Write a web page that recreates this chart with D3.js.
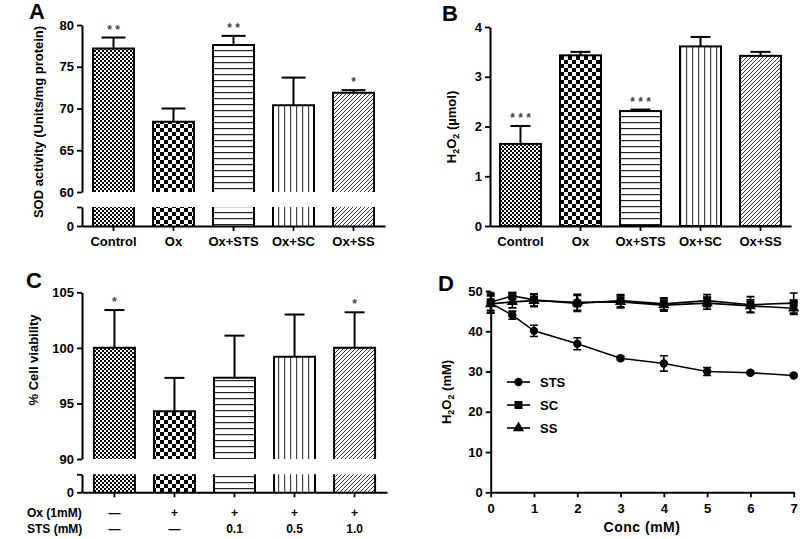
<!DOCTYPE html>
<html><head><meta charset="utf-8">
<script src="https://cdn.jsdelivr.net/npm/d3@7"></script>
<style>
body{margin:0;background:#fff}
svg text{font-family:"Liberation Sans",Arial,sans-serif;font-weight:bold;fill:#000}
</style></head><body>
<svg id="c" width="800" height="539"></svg>
<script>
// ---------- data ----------
const categories = ["Control", "Ox", "Ox+STS", "Ox+SC", "Ox+SS"];
const sodMean  = [77.2, 68.4, 77.6, 70.4, 71.9];
const sodErr   = [1.3, 1.6, 1.1, 3.3, 0.3];
const sodStars = ["* *", "", "* *", "", "*"];
const sodTicks = [60, 65, 70, 75, 80];

const h2o2Mean  = [1.65, 3.43, 2.31, 3.61, 3.42];
const h2o2Err   = [0.36, 0.07, 0.03, 0.19, 0.08];
const h2o2Stars = ["* * *", "", "* * *", "", ""];
const h2o2Ticks = [0, 1, 2, 3, 4];

const viabGroups = ["g1", "g2", "g3", "g4", "g5"];
const viabMean  = [100.0, 94.3, 97.3, 99.2, 100.0];
const viabErr   = [3.4, 3.0, 3.8, 3.8, 3.2];
const viabStars = ["*", "", "", "", "*"];
const viabTicks = [90, 95, 100, 105];
const oxRow  = ["\u2014", "+", "+", "+", "+"];
const stsRow = ["\u2014", "\u2014", "0.1", "0.5", "1.0"];

const conc   = [0, 0.5, 1, 2, 3, 4, 5, 6, 7];
const stsY   = [47.0, 44.0, 40.1, 36.9, 33.3, 32.0, 30.0, 29.7, 29.0];
const stsE   = [2.5, 1.0, 1.4, 1.5, 0.4, 1.9, 1.0, 0.3, 0.3];
const scY    = [47.2, 48.8, 47.8, 46.9, 47.6, 46.8, 47.6, 46.6, 47.0];
const scE    = [2.0, 0.8, 1.5, 2.0, 1.5, 1.5, 1.5, 2.0, 2.5];
const ssY    = [46.8, 47.3, 47.6, 47.2, 47.3, 46.5, 47.0, 46.3, 45.7];
const ssE    = [2.0, 1.5, 1.5, 2.0, 1.5, 1.5, 1.5, 1.5, 1.5];
const dXTicks = [0, 1, 2, 3, 4, 5, 6, 7];
const dYTicks = [0, 10, 20, 30, 40, 50];
const seriesNames = ["STS", "SC", "SS"];

const patternIds = ["pFine", "pCoarse", "pH", "pV", "pD"];

// ---------- setup ----------
const svg = d3.select("#c");
const defs = svg.append("defs");
function pat(id, w, h, draw) {
  const p = defs.append("pattern").attr("id", id).attr("patternUnits", "userSpaceOnUse")
    .attr("width", w).attr("height", h);
  p.append("rect").attr("width", w).attr("height", h).attr("fill", "#fff");
  draw(p);
}
pat("pFine", 4, 4, p => {
  p.append("rect").attr("x", 0).attr("y", 0).attr("width", 2).attr("height", 2).attr("fill", "#000");
  p.append("rect").attr("x", 2).attr("y", 2).attr("width", 2).attr("height", 2).attr("fill", "#000");
});
pat("pCoarse", 8, 8, p => {
  p.append("rect").attr("x", 0).attr("y", 0).attr("width", 4).attr("height", 4).attr("fill", "#000");
  p.append("rect").attr("x", 4).attr("y", 4).attr("width", 4).attr("height", 4).attr("fill", "#000");
});
pat("pH", 6, 6, p => {
  p.append("rect").attr("x", 0).attr("y", 2).attr("width", 6).attr("height", 1.2).attr("fill", "#222");
});
pat("pV", 6, 6, p => {
  p.append("rect").attr("x", 2).attr("y", 0).attr("width", 1.2).attr("height", 6).attr("fill", "#444");
});
pat("pD", 4, 4, p => {
  p.append("path").attr("d", "M-1,1 l2,-2 M0,4 l4,-4 M3,5 l2,-2").attr("stroke", "#222").attr("stroke-width", 0.9);
});

const intFmt = d3.format("d");

function styleAxis(g, fs) {
  g.select(".domain").attr("stroke", "#000").attr("stroke-width", 2);
  g.selectAll(".tick line").attr("stroke", "#000").attr("stroke-width", 1.8);
  g.selectAll(".tick text").attr("font-size", fs || 13).attr("fill", "#000")
    .attr("font-family", "Liberation Sans, Arial, sans-serif").attr("font-weight", "bold");
}

function panelLabel(t, x, y) {
  svg.append("text").attr("x", x).attr("y", y).attr("font-size", 22).text(t);
}

function yTitle(parts, x, y) {
  const t = svg.append("text").attr("transform", `translate(${x},${y}) rotate(-90)`)
    .attr("text-anchor", "middle").attr("font-size", 13);
  parts.forEach(p => {
    const ts = t.append("tspan").text(p[0]);
    if (p[1]) ts.attr("font-size", 9).attr("dy", p[1] === "sub" ? 3 : 0);
    if (p[2]) ts.attr("dy", p[2]);
  });
  return t;
}

// generic bar panel (optionally broken)
function barPanel(o) {
  const g = svg.append("g");
  const x = o.x;
  const bw = 41;
  const yU = o.yU, yL = o.yL;
  const base = o.yU.domain()[0];
  o.means.forEach((m, i) => {
    const cx = x(o.cats[i]) + x.bandwidth() / 2;
    const l = cx - bw / 2, r = cx + bw / 2;
    const top = yU(m), bot = yU(base);
    g.append("rect").attr("x", l).attr("y", top).attr("width", bw).attr("height", bot - top)
      .attr("fill", `url(#${patternIds[i]})`);
    if (yL) {
      g.append("path").attr("d", `M${l},${bot}V${top}H${r}V${bot}`).attr("fill", "none")
        .attr("stroke", "#000").attr("stroke-width", 2);
      const lt = yL(yL.domain()[1]), lb = yL(0);
      g.append("rect").attr("x", l).attr("y", lt).attr("width", bw).attr("height", lb - lt)
        .attr("fill", `url(#${patternIds[i]})`);
      g.append("path").attr("d", `M${l},${lb}V${lt}M${r},${lt}V${lb}`).attr("fill", "none")
        .attr("stroke", "#000").attr("stroke-width", 2);
    } else {
      g.append("rect").attr("x", l).attr("y", top).attr("width", bw).attr("height", bot - top)
        .attr("fill", "none").attr("stroke", "#000").attr("stroke-width", 2);
    }
    const et = yU(m + o.errs[i]);
    g.append("line").attr("x1", cx).attr("x2", cx).attr("y1", top).attr("y2", et)
      .attr("stroke", "#000").attr("stroke-width", 2);
    g.append("line").attr("x1", cx - o.cap / 2).attr("x2", cx + o.cap / 2).attr("y1", et).attr("y2", et)
      .attr("stroke", "#000").attr("stroke-width", 2);
    if (o.stars[i]) {
      g.append("text").attr("x", cx).attr("y", et - 4).attr("text-anchor", "middle")
        .attr("font-size", 12).attr("font-weight", "normal").style("fill", "#444").text(o.stars[i]);
    }
  });
  const ya = g.append("g").attr("transform", `translate(${o.axisX},0)`)
    .call(d3.axisLeft(yU).tickValues(o.ticks).tickFormat(intFmt).tickSize(5).tickSizeOuter(0).tickPadding(3));
  styleAxis(ya);
  if (yL) {
    const yl = g.append("g").attr("transform", `translate(${o.axisX},0)`)
      .call(d3.axisLeft(yL).tickValues([0, yL.domain()[1]]).tickFormat(d => d === 0 ? "0" : "")
        .tickSize(5).tickSizeOuter(0).tickPadding(3));
    styleAxis(yl);
  }
  const xa = g.append("g").attr("transform", `translate(0,${o.axisY})`)
    .call(d3.axisBottom(x).tickSize(5).tickSizeOuter(0).tickPadding(6)
      .tickFormat(o.xFormat || (d => d)));
  styleAxis(xa, 13);
  return g;
}

// ---------- Panel A ----------
const xA = d3.scaleBand().domain(categories).range([82, 385]).paddingInner(0.3).paddingOuter(0.175);
barPanel({
  cats: categories, means: sodMean, errs: sodErr, stars: sodStars, x: xA,
  yU: d3.scaleLinear().domain([60, 80]).range([192, 25]),
  yL: d3.scaleLinear().domain([0, 5]).range([226, 207]),
  ticks: sodTicks, axisX: 82, axisY: 226, cap: 24
});
panelLabel("A", 29, 19);
yTitle([["SOD activity (Units/mg protein)"]], 43, 122);

// ---------- Panel B ----------
const xB = d3.scaleBand().domain(categories).range([490, 791]).paddingInner(0.3).paddingOuter(0.158);
barPanel({
  cats: categories, means: h2o2Mean, errs: h2o2Err, stars: h2o2Stars, x: xB,
  yU: d3.scaleLinear().domain([0, 4]).range([226, 27]),
  yL: null,
  ticks: h2o2Ticks, axisX: 490, axisY: 226, cap: 20
});
panelLabel("B", 442, 21);
yTitle([["H"], ["2", "sub"], ["O", null, -3], ["2", "sub"], [" (\u00b5mol)", null, -3]], 456, 127);

// ---------- Panel C ----------
const xC = d3.scaleBand().domain(viabGroups).range([82, 387]).paddingInner(0.3).paddingOuter(0.19);
barPanel({
  cats: viabGroups, means: viabMean, errs: viabErr, stars: viabStars, x: xC,
  yU: d3.scaleLinear().domain([90, 105]).range([459, 292.3]),
  yL: d3.scaleLinear().domain([0, 5]).range([492.3, 474.3]),
  ticks: viabTicks, axisX: 82, axisY: 492.3, cap: 20, xFormat: () => ""
});
panelLabel("C", 26, 288);
yTitle([["%  Cell viability"]], 38, 360);
const rowG = svg.append("g");
rowG.append("text").attr("x", 27).attr("y", 517).attr("font-size", 12).text("Ox (1mM)");
rowG.append("text").attr("x", 27).attr("y", 533).attr("font-size", 12).text("STS (mM)");
viabGroups.forEach((gname, i) => {
  const cx = xC(gname) + xC.bandwidth() / 2;
  rowG.append("text").attr("x", cx).attr("y", 517).attr("text-anchor", "middle")
    .attr("font-size", 12).attr("font-weight", oxRow[i] === "\u2014" ? "normal" : "bold").text(oxRow[i]);
  rowG.append("text").attr("x", cx).attr("y", 533).attr("text-anchor", "middle")
    .attr("font-size", 12).attr("font-weight", stsRow[i] === "\u2014" ? "normal" : "bold").text(stsRow[i]);
});

// ---------- Panel D ----------
const xD = d3.scaleLinear().domain([0, 7]).range([490.7, 793.7]);
const yD = d3.scaleLinear().domain([0, 50]).range([492.3, 291]);
const gD = svg.append("g");
const seriesData = [
  { name: seriesNames[0], y: stsY, e: stsE, shape: "circle" },
  { name: seriesNames[1], y: scY, e: scE, shape: "square" },
  { name: seriesNames[2], y: ssY, e: ssE, shape: "triangle" }
];
const symType = { circle: d3.symbolCircle, square: d3.symbolSquare, triangle: d3.symbolTriangle };
const symSize = { circle: 55, square: 64, triangle: 55 };
const line = d3.line().x(d => xD(d[0])).y(d => yD(d[1]));
[2, 1, 0].forEach(si => {
  const s = seriesData[si];
  const pts = conc.map((c, i) => [c, s.y[i], s.e[i]]);
  gD.append("path").datum(pts).attr("d", line).attr("fill", "none").attr("stroke", "#000").attr("stroke-width", 1.6);
  pts.forEach(p => {
    const cx = xD(p[0]), y1 = yD(p[1] - p[2]), y2 = yD(p[1] + p[2]);
    gD.append("path").attr("d", `M${cx},${y1}V${y2}M${cx - 4},${y1}H${cx + 4}M${cx - 4},${y2}H${cx + 4}`)
      .attr("stroke", "#000").attr("stroke-width", 1.6).attr("fill", "none");
    gD.append("path").attr("d", d3.symbol().type(symType[s.shape]).size(symSize[s.shape])())
      .attr("transform", `translate(${cx},${yD(p[1])})`).attr("fill", "#000");
  });
});
const yDa = gD.append("g").attr("transform", "translate(490.7,0)")
  .call(d3.axisLeft(yD).tickValues(dYTicks).tickFormat(intFmt).tickSize(5).tickSizeOuter(0).tickPadding(3));
styleAxis(yDa);
const xDa = gD.append("g").attr("transform", "translate(0,492.3)")
  .call(d3.axisBottom(xD).tickValues(dXTicks).tickFormat(intFmt).tickSize(5).tickSizeOuter(0).tickPadding(6));
styleAxis(xDa);
seriesData.forEach((s, i) => {
  const ly = 382 + i * 23;
  gD.append("line").attr("x1", 507).attr("x2", 530).attr("y1", ly).attr("y2", ly)
    .attr("stroke", "#000").attr("stroke-width", 1.6);
  gD.append("path").attr("d", d3.symbol().type(symType[s.shape]).size(symSize[s.shape])())
    .attr("transform", `translate(518.5,${ly})`).attr("fill", "#000");
  gD.append("text").attr("x", 540).attr("y", ly + 5).attr("font-size", 13).text(s.name);
});
panelLabel("D", 438, 291);
yTitle([["H"], ["2", "sub"], ["O", null, -3], ["2", "sub"], [" (mM)", null, -3]], 451, 392);
svg.append("text").attr("x", 642).attr("y", 532).attr("text-anchor", "middle").attr("font-size", 14)
  .style("letter-spacing", "0.5px").text("Conc (mM)");
</script>
</body></html>
